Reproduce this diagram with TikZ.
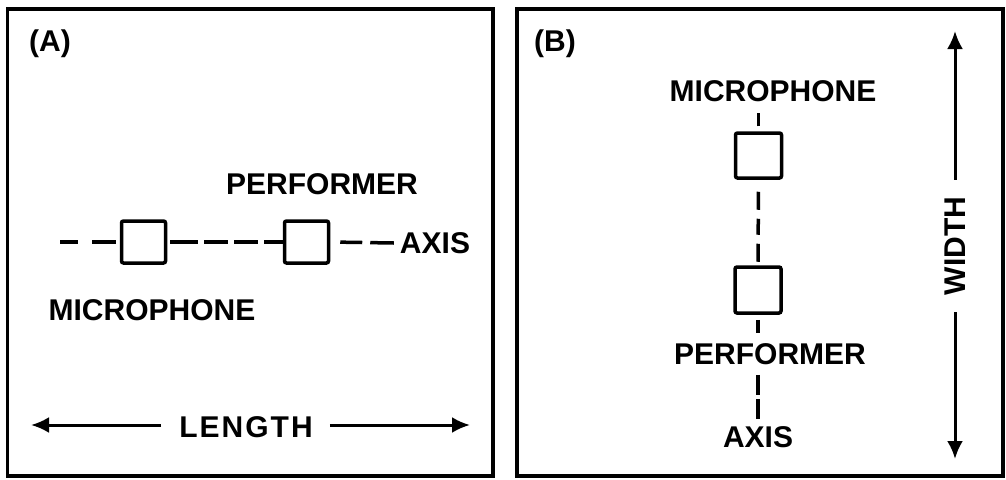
\documentclass[tikz,border=0pt]{standalone}
\usepackage{fontspec}
\setmainfont{Liberation Sans}
\usetikzlibrary{arrows.meta}
\tikzset{
  frame/.style={draw, line width=3.5pt},
  lbl/.style={inner sep=0pt, font=\fontsize{30}{36}\selectfont\bfseries},
  spot/.style={draw, line width=3.5pt, rounded corners=2pt, inner sep=0pt,
               minimum width=44pt, minimum height=42pt},
  axisline/.style={line width=3.5pt},
  dimline/.style={line width=3pt, -{Latex[length=18pt,width=16pt]}},
}
\begin{document}
\begin{tikzpicture}[x=1pt, y=-1pt]
\useasboundingbox (0,0) rectangle (1006,479);

% ---- panel A: length-wise placement ----
\draw[frame] (7.5,9) rectangle (493,476);
\node[lbl] (tA) at (50,44) {(A)};
\node[lbl] (perfA) at (322,184) {PERFORMER};
\node[lbl] (micA) at (152,310) {MICROPHONE};
\node[spot] (boxA1) at (143.5,242) {};
\node[spot] (boxA2) at (306.5,242) {};
\node[lbl] (axA) at (435,243) {AXIS};
\coordinate (axAstart) at (60,242);
\draw[axisline, dash pattern=on 18pt off 14pt on 24pt off 6pt]
  (axAstart) -- (boxA1.west);
\draw[axisline, shorten <=3pt,
      dash pattern=on 28pt off 6pt on 24pt off 6pt on 24pt off 6pt on 24pt off 6pt]
  (boxA1.east) -- (boxA2.west);
\draw[axisline, shorten <=10pt, dash pattern=on 22pt off 8pt on 30pt off 8pt]
  (boxA2.east) -- ([xshift=-6pt]axA.west);

\node[lbl] (lenA) at (246,427) {L\kern2pt E\kern2pt N\kern2pt G\kern2pt T\kern2pt H};
\coordinate (lenL) at (31,425);
\coordinate (lenR) at (470,425);
\draw[dimline, shorten <=18pt] (lenA.west |- lenL) -- (lenL);
\draw[dimline, shorten <=17pt] (lenA.east |- lenR) -- (lenR);

% ---- panel B: width-wise placement ----
\draw[frame] (517,9) rectangle (1003,476);
\node[lbl] (tB) at (555,44) {(B)};
\node[lbl] (micB) at (773,91) {MICROPHONE};
\node[spot, minimum width=46pt, minimum height=45pt] (boxB1) at (758.5,155.5) {};
\node[spot, minimum width=46pt, minimum height=46pt] (boxB2) at (758,290) {};
\node[lbl] (perfB) at (770,354) {PERFORMER};
\node[lbl] (axB) at (758,437) {AXIS};
\draw[axisline, shorten <=5pt, shorten >=11pt]
  (boxB1.north) -- (boxB1.north |- micB.south);
\draw[axisline, shorten <=12pt,
      dash pattern=on 18pt off 9pt on 16pt off 9pt on 18pt off 20pt]
  (boxB1.south) -- (boxB2.north);
\draw[axisline, shorten <=5pt, shorten >=10pt]
  (boxB2.south) -- (boxB2.south |- perfB.north);
\draw[axisline, shorten <=10pt, shorten >=7pt, dash pattern=on 20pt off 4pt on 30pt off 4pt]
  (boxB2.south |- perfB.south) -- (boxB2.south |- axB.north);

\node[lbl, rotate=90] (widB) at (955,246) {WIDTH};
\coordinate (widT) at (955,31);
\coordinate (widD) at (955,459);
\draw[dimline, shorten <=17pt] (widB.east) -- (widT);
\draw[dimline, shorten <=17pt] (widB.west) -- (widD);
\end{tikzpicture}
\end{document}
